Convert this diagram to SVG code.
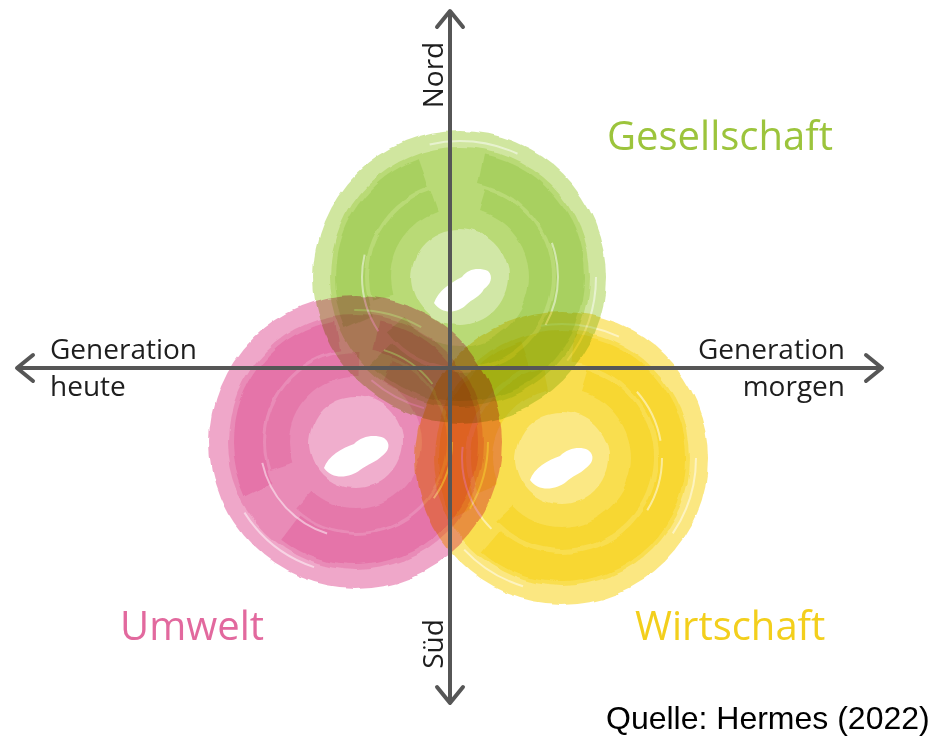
<svg xmlns="http://www.w3.org/2000/svg" width="934" height="736" viewBox="0 0 934 736">
<defs>
<style>
.lbl{font-family:"Open Sans","Noto Sans","Liberation Sans",sans-serif;font-size:28px;fill:#1e1e1e}
.big{font-family:"Open Sans","Noto Sans","Liberation Sans",sans-serif;font-size:40px}
.axis{stroke:#565656;stroke-width:4;fill:none}
.blob{mix-blend-mode:multiply}
.streak{fill:none;stroke:#fff;stroke-width:2;opacity:.5}
</style>
<filter id="rough" x="-20%" y="-20%" width="140%" height="140%">
<feTurbulence type="fractalNoise" baseFrequency="0.03" numOctaves="2" seed="7"/>
<feDisplacementMap in="SourceGraphic" scale="7" xChannelSelector="R" yChannelSelector="G"/>
</filter>
<marker id="chev" viewBox="-20 -16 24 32" refX="0" refY="0" markerWidth="24" markerHeight="32" markerUnits="userSpaceOnUse" orient="auto-start-reverse">
<path d="M-16,-13 L0,0 L-16,13" fill="none" stroke="#565656" stroke-width="4" stroke-linecap="round" stroke-linejoin="round"/>
</marker>
</defs>
<rect width="934" height="736" fill="#fff"/>

<g id="gesellschaft" class="blob" transform="translate(460,277)">
<g filter="url(#rough)">
<circle r="146" fill="#cde59a" opacity="0.95"/>
<circle r="130" fill="#b2d668" opacity="0.75"/>
<circle r="110" fill="none" stroke="#98c84c" stroke-width="30" opacity="0.5" stroke-dasharray="260 40 180 60 160"/>
<circle r="80" fill="none" stroke="#90c240" stroke-width="22" opacity="0.4" stroke-dasharray="200 30 120 50"/>
<circle r="48" fill="#fff" opacity="0.35"/>
</g>
<circle r="136" class="streak" stroke-dasharray="90 160 60 300"/>
<circle r="98" class="streak" stroke-dasharray="50 200 80 250"/>
<path d="M-26,26 C-22,14 -10,6 2,0 C8,-8 18,-10 28,-6 C34,0 30,8 24,12 C20,20 12,22 6,28 C-2,36 -18,38 -26,26 Z" fill="#fff"/>
</g>

<g id="umwelt" class="blob" transform="translate(356,442)">
<g filter="url(#rough)">
<circle r="146" fill="#eea2c6" opacity="0.95"/>
<circle r="128" fill="#e984b3" opacity="0.8"/>
<circle r="108" fill="none" stroke="#e2619c" stroke-width="30" opacity="0.55" stroke-dasharray="240 50 200 40 170"/>
<circle r="78" fill="none" stroke="#e0629c" stroke-width="24" opacity="0.45" stroke-dasharray="180 40 150 30"/>
<circle r="46" fill="#fff" opacity="0.3"/>
</g>
<circle r="132" class="streak" stroke-dasharray="70 180 90 280"/>
<circle r="96" class="streak" stroke-dasharray="60 120 100 200"/>
<path d="M-32,26 C-28,14 -14,6 -2,2 C6,-6 18,-8 28,-4 C36,2 32,10 26,14 C20,20 12,22 4,28 C-6,36 -24,38 -32,26 Z" fill="#fff"/>
</g>

<g id="wirtschaft" class="blob" transform="translate(562,458)">
<g filter="url(#rough)">
<circle r="146" fill="#fbe67a" opacity="0.95"/>
<circle r="128" fill="#f9dc44" opacity="0.8"/>
<circle r="110" fill="none" stroke="#f6d21e" stroke-width="28" opacity="0.6" stroke-dasharray="250 40 190 50 170"/>
<circle r="80" fill="none" stroke="#f5d018" stroke-width="22" opacity="0.5" stroke-dasharray="190 30 140 40"/>
<circle r="46" fill="#fff" opacity="0.3"/>
</g>
<circle r="134" class="streak" stroke-dasharray="80 170 70 290"/>
<circle r="100" class="streak" stroke-dasharray="55 180 90 230"/>
<path d="M-32,22 C-28,10 -14,2 -2,-2 C6,-10 18,-12 26,-8 C34,-2 30,6 24,10 C18,16 10,18 4,24 C-6,32 -24,34 -32,22 Z" fill="#fff"/>
</g>

<g id="connectors">
<path class="axis" d="M450,703 L450,11" marker-start="url(#chev)" marker-end="url(#chev)"/>
<path class="axis" d="M17,368 L882,368" marker-start="url(#chev)" marker-end="url(#chev)"/>
</g>

<g id="labels">
<text class="lbl" transform="translate(443,75) rotate(-90)" text-anchor="middle">Nord</text>
<text class="lbl" transform="translate(443,644) rotate(-90)" text-anchor="middle">Süd</text>
<text class="lbl" x="50" y="359">Generation</text>
<text class="lbl" x="50" y="396">heute</text>
<text class="lbl" x="845" y="359" text-anchor="end">Generation</text>
<text class="lbl" x="845" y="396" text-anchor="end">morgen</text>
<text class="big" x="607" y="150" fill="#9cc43c">Gesellschaft</text>
<text class="big" x="120" y="640" fill="#e2699e">Umwelt</text>
<text class="big" x="635" y="640" fill="#f3cf1c">Wirtschaft</text>
<text x="606" y="729" font-family="'Liberation Sans',Arial,sans-serif" font-size="32" fill="#000">Quelle: Hermes (2022)</text>
</g>
</svg>
